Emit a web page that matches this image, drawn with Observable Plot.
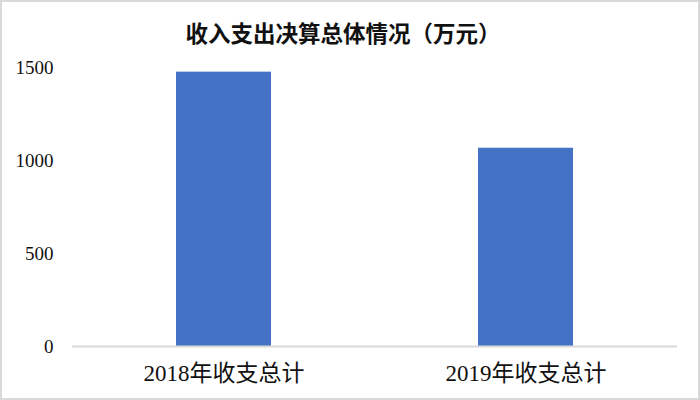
<!DOCTYPE html>
<html>
<head>
<meta charset="utf-8">
<script src="https://cdn.jsdelivr.net/npm/d3@7"></script>
<script src="https://cdn.jsdelivr.net/npm/@observablehq/plot@0.6"></script>
<style>
  body { margin: 0; background: #fff; }
  #chart {
    position: relative;
    width: 700px;
    height: 400px;
    outline: 2px solid #d9d9d9;
    outline-offset: -2px;
    overflow: hidden;
  }
  #title {
    position: absolute;
    left: 0;
    width: 686px;
    top: 17px;
    text-align: center;
    font-family: "Noto Sans CJK SC", sans-serif;
    font-weight: bold;
    font-size: 22.5px;
    line-height: 30px;
    color: #111;
  }
  #chart svg { position: absolute; left: 0; top: 0; }
</style>
</head>
<body>
<div id="chart">
  <div id="title">收入支出决算总体情况（万元）</div>
</div>
<script>
const categories = ["2018年收支总计", "2019年收支总计"];
const values = [1475, 1066];
const yTicks = [0, 500, 1000, 1500];

const data = categories.map((c, i) => ({ category: c, value: values[i] }));

const chart = Plot.plot({
  width: 700,
  height: 400,
  marginTop: 67,
  marginBottom: 54,
  marginLeft: 72,
  marginRight: 23,
  style: { background: "transparent", color: "#111" },
  x: { domain: categories, paddingInner: 0.686, paddingOuter: 0.343, label: null },
  y: { domain: [0, 1500], label: null },
  marks: [
    Plot.barY(data, { x: "category", y: "value", fill: "#4472C4" }),
    Plot.ruleY([0], { stroke: "#d9d9d9", strokeWidth: 2 }),
    Plot.axisY(yTicks, {
      tickSize: 0,
      tickPadding: 19,
      tickFormat: d => String(d),
      fontSize: 19,
      fontFamily: "Liberation Serif, serif",
      label: null
    }),
    Plot.axisX({
      tickSize: 0,
      tickPadding: 18,
      fontSize: 23,
      fontFamily: "Liberation Serif, Noto Sans CJK SC, serif",
      label: null
    })
  ]
});

document.getElementById("chart").appendChild(chart);
</script>
</body>
</html>
